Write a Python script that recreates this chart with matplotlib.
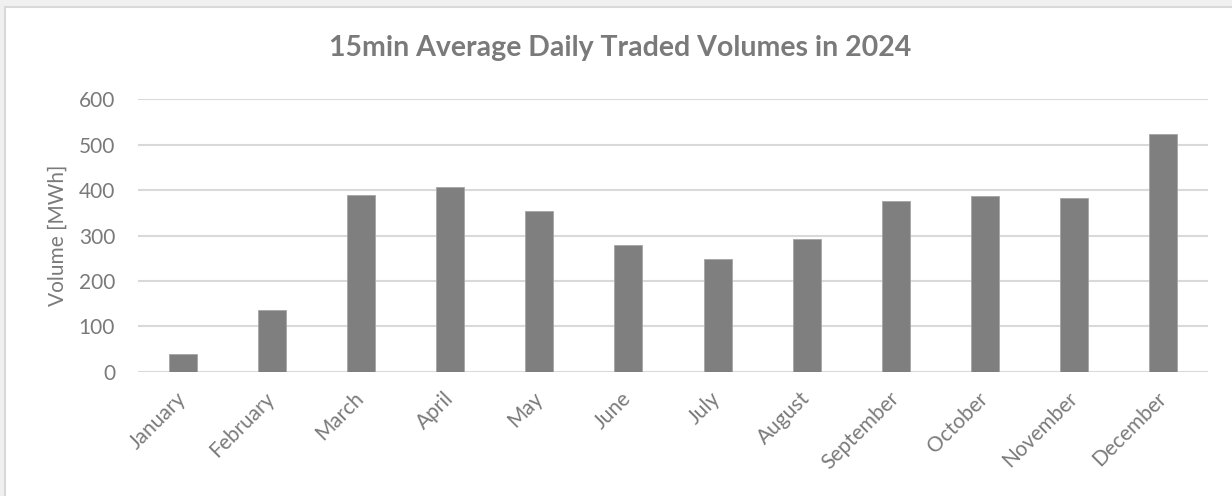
import matplotlib.pyplot as plt
from matplotlib.patches import Rectangle

months = ['January', 'February', 'March', 'April', 'May', 'June', 'July',
          'August', 'September', 'October', 'November', 'December']
volumes = [40, 137, 390, 407, 353, 278, 248, 293, 377, 387, 382, 524]
yticks = [0, 100, 200, 300, 400, 500, 600]

text_color = '#7a7a7a'
plt.rcParams['font.family'] = ['Lato', 'DejaVu Sans']

fig = plt.figure(figsize=(12.32, 4.96), dpi=100)
fig.patch.set_facecolor('#f0f0f0')
# white chart area with light border, cut off at right/bottom
fig.patches.append(Rectangle((5 / 1232, -0.1), 1.2, 1 - 7 / 496 + 0.1,
                             transform=fig.transFigure, facecolor='white',
                             edgecolor='#d9d9d9', linewidth=1.5, zorder=-5))

ax = fig.add_axes([138 / 1232, 0.2506, (1208 - 138) / 1232, 0.7998 - 0.2506])
ax.set_zorder(2)
ax.set_facecolor('none')
x = range(len(months))
ax.bar(x, volumes, width=0.313, color='#7f7f7f', edgecolor='#a6a6a6',
       linewidth=0.6, zorder=3)

ax.set_xlim(-0.5, len(months) - 0.5)
ax.set_ylim(0, 600)
ax.set_yticks(yticks)
ax.set_yticklabels([str(v) for v in yticks])
ax.yaxis.grid(True, color='#d9d9d9', linewidth=1.5, zorder=0)
ax.set_axisbelow(True)
for s in ax.spines.values():
    s.set_visible(False)
ax.tick_params(axis='both', length=0, colors=text_color, labelsize=15)
ax.tick_params(axis='y', pad=16.5)
ax.set_xticks(list(x))
ax.set_xticklabels(months, rotation=45, ha='right', va='center',
                   rotation_mode='anchor')
ax.tick_params(axis='x', pad=17)

ax.set_ylabel('Volume [MWh]', color=text_color, fontsize=15, labelpad=8)
fig.text(0.503, 0.887, '15min Average Daily Traded Volumes in 2024',
         ha='center', va='baseline', fontsize=20.5, fontweight='bold',
         color=text_color, zorder=5)

plt.savefig('out.png', dpi=100, facecolor=fig.get_facecolor())
